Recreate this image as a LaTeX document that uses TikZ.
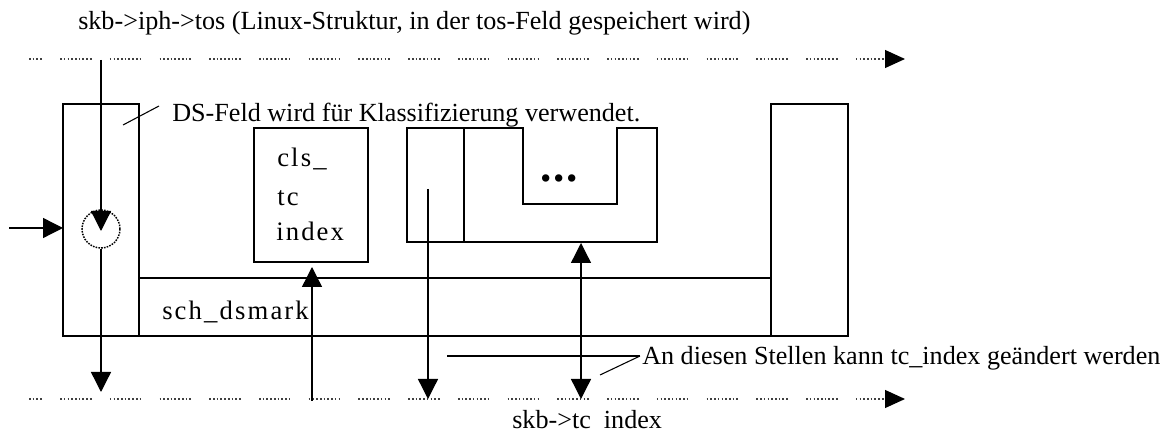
\documentclass[tikz,border=0pt]{standalone}
\usepackage{fontspec}
\setmainfont{Liberation Serif}
\newfontfamily\widefont[LetterSpace=8]{Liberation Serif}
\usetikzlibrary{arrows.meta}
\begin{document}
\begin{tikzpicture}[x=0.75pt,y=-0.75pt,
  box/.style={draw,line width=1pt,inner sep=0pt,outer sep=0pt,anchor=north west},
  heavy/.style={line width=2.2pt},
  conn/.style={line width=1pt},
  tip/.style={-{Triangle[length=15pt,width=15pt]}},
  twotip/.style={{Triangle[length=15pt,width=15pt]}-{Triangle[length=15pt,width=15pt]}},
  dotline/.style={line width=0.9pt,black!75,
    dash pattern=on 1.2pt off 1.6pt on 1.2pt off 1.6pt on 1.2pt off 1.6pt on 1.2pt off 1.6pt
      on 1.2pt off 1.6pt on 1.2pt off 1.6pt on 1.2pt off 1.6pt on 1.2pt off 1.6pt on 1.2pt off 13.7pt,
    dash phase=12.5pt,
    -{Triangle[length=15pt,width=13.5pt,color=black]}},
  txt/.style={inner sep=0pt,anchor=base west,font=\fontsize{19.6pt}{23pt}\selectfont},
  wtxt/.style={inner sep=0pt,anchor=base west,font=\widefont\fontsize{20pt}{24pt}\selectfont},
  callout/.style={line width=0.8pt}
]
% page
\useasboundingbox (0,0) rectangle (1172,434);
\fill[white] (0,0) rectangle (1172,434);

% headings and notes
\node[txt] (title) at (78,30) {skb->iph->tos (Linux-Struktur, in der tos-Feld gespeichert wird)};
\node[txt] (ds) at (172,122) {DS-Feld wird für Klassifizierung verwendet.};
\node[txt] (stellen) at (642,365) {An diesen Stellen kann tc\_index geändert werden};
\node[txt] (tcidx) at (512,429) {skb->tc\phantom{\_}index};

% the two field lines
\coordinate (t0) at (27,59);
\coordinate (t1) at (905,59);
\coordinate (b0) at (27,399);
\coordinate (b1) at (905,399);
\draw[dotline] (t0) -- (t1);
\draw[dotline] (b0) -- (b1);

% boxes
\node[box,minimum width=57pt,minimum height=174pt] (lbox) at (63,104) {};
\node[box,minimum width=57.75pt,minimum height=174pt] (rbox) at (771,104) {};
\node[box,minimum width=474pt,minimum height=43.5pt] (sch) at (139,278) {};
\node[box,minimum width=85.5pt,minimum height=100.5pt] (cls) at (254,128) {};
\node[box,minimum width=42.75pt,minimum height=85.5pt] (narrow) at (407,128) {};
\draw[line width=1pt] (narrow.north east) -- (523,128) -- (523,204) -- (617,204)
  -- (617,128) -- (657,128) -- (657,242) -- (narrow.south east);
\draw[heavy] (narrow.north east) -- (narrow.south east);
\draw[heavy] (sch.north west) -- (sch.south west);
\draw[heavy] (sch.north east) -- (sch.south east);

% box texts
\node[wtxt] (cls1) at (277,167) {cls\_};
\node[wtxt] (cls2) at (277,206) {tc};
\node[wtxt] (cls3) at (276,241) {index};
\node[wtxt] (schtext) at (162,320) {sch\_dsmark};
\node[inner sep=0pt,font=\bfseries\fontsize{34pt}{34pt}\selectfont] (dots) at (559,178) {.\hspace{1.5pt}.\hspace{1.5pt}.};

% switch in the tos path
\node[draw,circle,line width=1.1pt,dash pattern=on 1.2pt off 0.9pt,minimum size=28.5pt,inner sep=0pt] (sw) at (101,229) {};
\coordinate (tosin) at (101,60);
\coordinate (swtip) at (101,231);
\coordinate (lout) at (101,392);
\draw[conn,tip] (tosin) -- (swtip);
\draw[conn,tip] (sw.south) -- (lout);

% input arrow
\coordinate (in) at (9,228);
\draw[conn,tip] (in) -- (in -| lbox.west);

% connections to skb->tc_index
\coordinate (upstart) at (312,401);
\draw[conn,tip] (upstart) -- ([yshift=-3.75pt]cls.south -| upstart);
\coordinate (nstart) at (428,189);
\draw[conn,tip] (nstart) -- (nstart |- b0);
\coordinate (ubot) at (581,243);
\draw[conn,twotip] (ubot) -- (ubot |- b0);

% callouts
\coordinate (dsc0) at (123,125);
\coordinate (dsc1) at (159,106);
\draw[callout] (dsc0) -- (dsc1);
\coordinate (h0) at (447,356);
\coordinate (h1) at (640,356);
\coordinate (s0) at (600,375);
\draw[conn] (h0) -- (h1);
\draw[callout] (s0) -- (h1);
\end{tikzpicture}
\end{document}
